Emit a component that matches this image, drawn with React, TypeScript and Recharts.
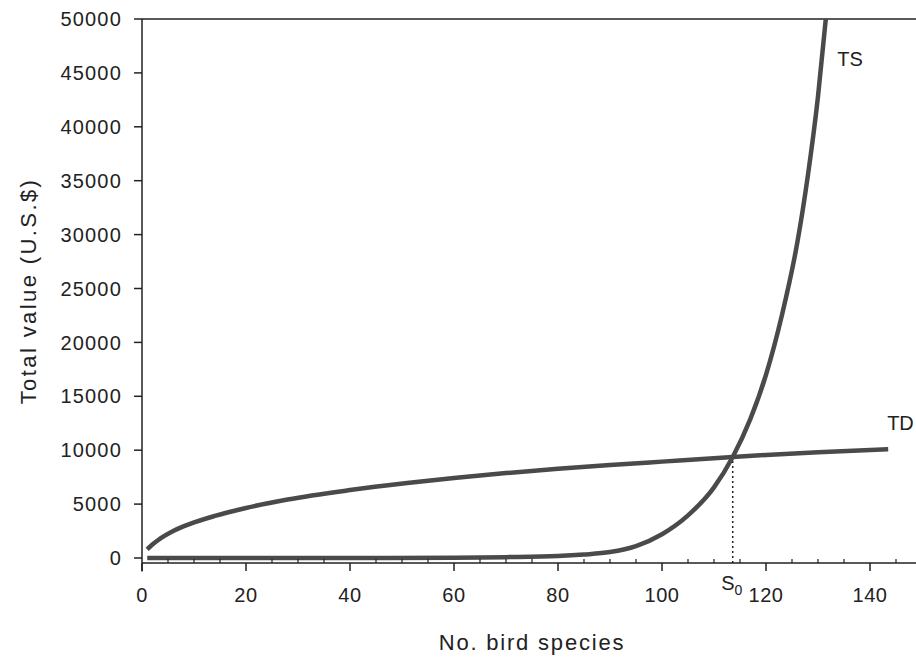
import React from "react";
import {
  LineChart,
  Line,
  XAxis,
  YAxis,
  ReferenceLine,
  ReferenceDot,
  Label,
} from "recharts";

const tsSpecies = [1, 20, 40, 60, 70, 80, 85, 90, 95, 100, 105, 110, 113.6, 117, 120, 123, 126, 128, 130, 131.5];
const tsValue = [0, 0, 0, 30, 80, 180, 320, 550, 1100, 2200, 3950, 6550, 9370, 12900, 17000, 22400, 29200, 35300, 42800, 50000];

const tdSpecies = [1, 2, 3, 4, 6, 9, 14, 20, 28, 40, 51, 60, 70, 80, 90, 100, 113.6, 120, 130, 143.5];
const tdValue = [800, 1250, 1620, 1950, 2500, 3120, 3900, 4640, 5430, 6300, 6950, 7420, 7880, 8270, 8620, 8940, 9370, 9560, 9820, 10100];

const xTicks = [0, 20, 40, 60, 80, 100, 120, 140];
const xMinorTicks = [5, 10, 15, 25, 30, 35, 45, 50, 55, 65, 70, 75, 85, 90, 95, 105, 110, 115, 125, 130, 135, 145];
const yTicks = [0, 5000, 10000, 15000, 20000, 25000, 30000, 35000, 40000, 45000, 50000];

const s0 = 113.6;
const s0Value = 9370;
const yMin = -464;

const tsData = tsSpecies.map((x, i) => ({ x, y: tsValue[i] }));
const tdData = tdSpecies.map((x, i) => ({ x, y: tdValue[i] }));
const allXTicks = [...xTicks, ...xMinorTicks].sort((a, b) => a - b);

const font = '"Liberation Sans", Arial, Helvetica, sans-serif';
const ink = "#222";
const curve = "#4a4a4a";

const YTick = ({ x, y, payload }: any) => (
  <text x={x} y={y} dy="0.36em" textAnchor="end" fontSize={20} fill={ink} letterSpacing={1.2} fontFamily={font}>
    {payload.value}
  </text>
);

// tickSize/tickMargin are 0, so y is the axis line itself
const XTick = ({ x, y, payload }: any) => {
  if (!xTicks.includes(payload.value)) {
    return <line x1={x} x2={x} y1={y} y2={y - 4} stroke={ink} strokeWidth={1.2} />;
  }
  return (
    <g>
      <line x1={x} x2={x} y1={y} y2={y + 8} stroke={ink} strokeWidth={1.5} />
      <text x={x} y={y + 25} dy="0.72em" textAnchor="middle" fontSize={20} fill={ink} letterSpacing={0.6} fontFamily={font}>
        {payload.value}
      </text>
    </g>
  );
};

const tag = (txt: string) => (p: any) => (
  <text x={p.cx} y={p.cy} fontSize={20} fill={ink} fontFamily={font}>
    {txt}
  </text>
);

const S0Tag = (p: any) => (
  <text x={p.cx} y={p.cy} fontSize={20} fill={ink} fontFamily={font}>
    S
    <tspan dy={5} fontSize={14}>
      0
    </tspan>
  </text>
);

export default function App() {
  return (
    <div
      style={{
        position: "absolute",
        left: 0,
        top: 0,
        width: 916,
        height: 658,
        overflow: "hidden",
        background: "#fff",
      }}
    >
      <LineChart
        width={930}
        height={658}
        margin={{ top: 19, right: 8, bottom: 0, left: 0 }}
        style={{ fontFamily: font }}
      >
        <XAxis
          type="number"
          dataKey="x"
          domain={[0, 150]}
          ticks={allXTicks}
          interval={0}
          tickSize={0}
          tickMargin={0}
          height={95}
          axisLine={{ stroke: ink, strokeWidth: 1.5 }}
          tickLine={false}
          tick={<XTick />}
          allowDataOverflow
        >
          <Label
            value="No. bird species"
            position="insideBottom"
            offset={8}
            fontSize={22}
            fill={ink}
            style={{ letterSpacing: "1.8px", fontFamily: font }}
          />
        </XAxis>
        <YAxis
          type="number"
          domain={[yMin, 50000]}
          ticks={yTicks}
          interval={0}
          width={142}
          tickSize={8}
          tickMargin={12}
          axisLine={{ stroke: ink, strokeWidth: 1.5 }}
          tickLine={{ stroke: ink, strokeWidth: 1.5 }}
          tick={<YTick />}
          allowDataOverflow
        >
          <Label
            value="Total value (U.S.$)"
            angle={-90}
            position="insideLeft"
            offset={28}
            fontSize={22}
            fill={ink}
            style={{ textAnchor: "middle", letterSpacing: "2.4px", fontFamily: font }}
          />
        </YAxis>

        <ReferenceLine y={50000} stroke={ink} strokeWidth={1.5} />
        <ReferenceLine
          segment={[
            { x: 0, y: yMin },
            { x: 0, y: yMin - 800 },
          ]}
          ifOverflow="visible"
          stroke={ink}
          strokeWidth={1.5}
        />
        <ReferenceLine
          segment={[
            { x: s0, y: yMin },
            { x: s0, y: s0Value },
          ]}
          stroke={ink}
          strokeWidth={1.5}
          strokeDasharray="2 3"
        />

        <Line
          data={tdData}
          dataKey="y"
          type="monotone"
          stroke={curve}
          strokeWidth={4.5}
          dot={false}
          isAnimationActive={false}
        />
        <Line
          data={tsData}
          dataKey="y"
          type="monotone"
          stroke={curve}
          strokeWidth={4.5}
          dot={false}
          isAnimationActive={false}
        />

        <ReferenceDot x={133.7} y={45600} r={0} ifOverflow="visible" shape={tag("TS")} />
        <ReferenceDot x={143.3} y={11900} r={0} ifOverflow="visible" shape={tag("TD")} />
        <ReferenceDot x={111.4} y={-3000} r={0} ifOverflow="visible" shape={S0Tag} />
      </LineChart>
    </div>
  );
}
